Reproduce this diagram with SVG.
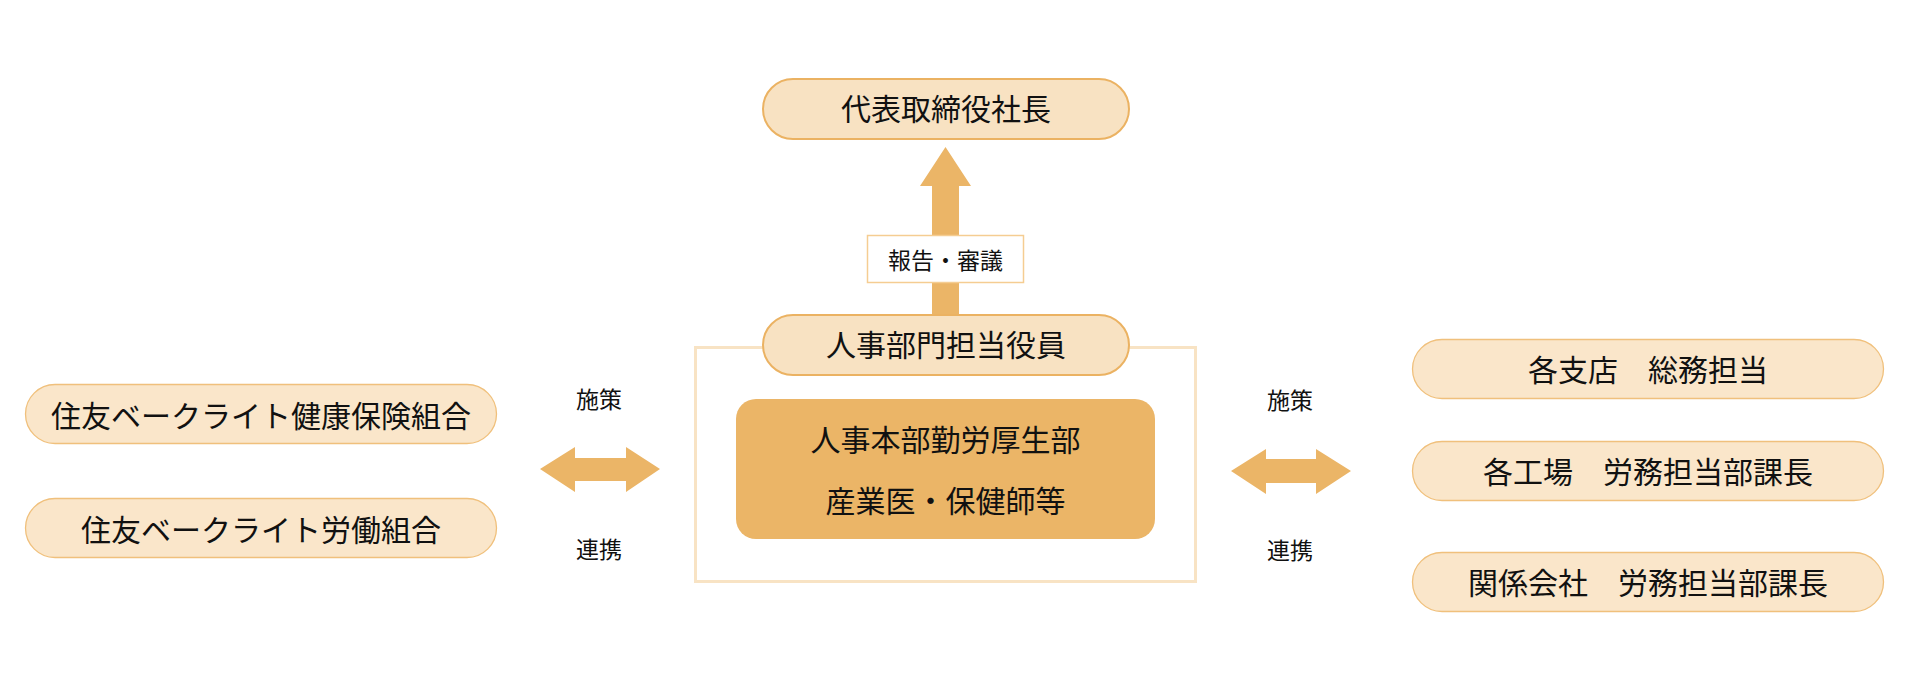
<svg xmlns="http://www.w3.org/2000/svg" width="1910" height="700" viewBox="0 0 1910 700">
<style>
text{font-family:"Noto Sans CJK JP","Noto Sans CJK SC",sans-serif;fill:#111;text-anchor:middle;dominant-baseline:central}
.t30{font-size:30px}
.t23{font-size:23px}
.main{fill:#f8e2c2;stroke:#ebb262;stroke-width:2}
.side{fill:#fae6ca;stroke:#f0c07c;stroke-width:1.3}
.arrow{fill:#ebb567}
</style>
<rect width="1910" height="700" fill="#ffffff"/>
<g id="connectors">
<path class="arrow" d="M932,318 V186 H920 L945.5,147 L971,186 H959 V318 Z"/>
<path class="arrow" d="M540,469 L575,447 V458 H626 V447 L660,469 L626,492 V481 H575 V492 Z"/>
<path class="arrow" d="M1231,471 L1266,449 V459 H1316 V449 L1351,471 L1316,494 V483 H1266 V494 Z"/>
</g>
<g id="frame">
<rect x="695.5" y="347.5" width="500" height="234" fill="none" stroke="#f8e3c4" stroke-width="3"/>
</g>
<g id="label-report">
<rect x="867.5" y="235.5" width="156" height="47" fill="#ffffff" stroke="#f5cd92" stroke-width="1.5"/>
<text class="t23" x="945.5" y="259">報告・審議</text>
</g>
<g id="label-left-top"><text class="t23" x="599" y="398">施策</text></g>
<g id="label-left-bottom"><text class="t23" x="599" y="548">連携</text></g>
<g id="label-right-top"><text class="t23" x="1290" y="399">施策</text></g>
<g id="label-right-bottom"><text class="t23" x="1290" y="549">連携</text></g>
<g id="node-president">
<rect class="main" x="763" y="79" width="366" height="60" rx="30"/>
<text class="t30" x="946" y="107">代表取締役社長</text>
</g>
<g id="node-hr-officer">
<rect class="main" x="763" y="315" width="366" height="60" rx="30"/>
<text class="t30" x="946" y="343">人事部門担当役員</text>
</g>
<g id="node-hr-dept">
<rect x="736" y="399" width="419" height="140" rx="20" fill="#ebb567"/>
<text class="t30" x="945.5" y="438">人事本部勤労厚生部</text>
<text class="t30" x="945.5" y="499">産業医・保健師等</text>
</g>
<g id="node-health-insurance">
<rect class="side" x="25.5" y="384.5" width="471" height="59" rx="29.5"/>
<text class="t30" x="261" y="414">住友ベークライト健康保険組合</text>
</g>
<g id="node-union">
<rect class="side" x="25.5" y="498.5" width="471" height="59" rx="29.5"/>
<text class="t30" x="261" y="528">住友ベークライト労働組合</text>
</g>
<g id="node-branches">
<rect class="side" x="1412.5" y="339.5" width="471" height="59" rx="29.5"/>
<text class="t30" x="1648" y="368">各支店　総務担当</text>
</g>
<g id="node-factories">
<rect class="side" x="1412.5" y="441.5" width="471" height="59" rx="29.5"/>
<text class="t30" x="1648" y="470">各工場　労務担当部課長</text>
</g>
<g id="node-affiliates">
<rect class="side" x="1412.5" y="552.5" width="471" height="59" rx="29.5"/>
<text class="t30" x="1648" y="581">関係会社　労務担当部課長</text>
</g>
</svg>
